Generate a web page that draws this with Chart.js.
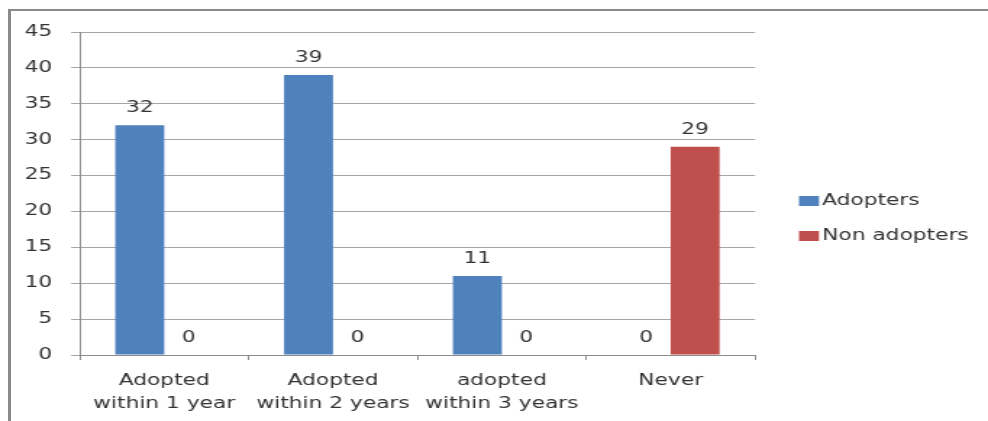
<!DOCTYPE html>
<html><head><meta charset="utf-8">
<script src="https://cdn.jsdelivr.net/npm/chart.js@4.4.0/dist/chart.umd.min.js"></script>
<style>
html,body{margin:0;padding:0;background:#fff;overflow:hidden;width:988px;height:421px;}
#frame{position:absolute;left:8px;top:9px;width:1000px;height:440px;border-left:3px solid #8a8a8a;border-top:2px solid #8a8a8a;}
#wrap{position:absolute;left:0;top:0;width:682px;height:421px;transform:scaleX(1.4487);transform-origin:0 0;}
</style></head><body>
<div id="frame"></div>
<div id="wrap"><canvas id="c" width="682" height="421"></canvas></div>
<script>
const categories = [["Adopted","within 1 year"],["Adopted","within 2 years"],["adopted","within 3 years"],["Never"]];
const seriesNames = ["Adopters","Non adopters"];
const adopters = [32,39,11,0];
const nonAdopters = [0,0,0,29];
const yMin = 0, yMax = 45, yStep = 5;

const FONT = '"DejaVu Sans", Verdana, sans-serif';
const TEXT = '#333333';

const valueLabels = {
  id:'valueLabels',
  afterDatasetsDraw(chart){
    const ctx = chart.ctx;
    ctx.save();
    ctx.font = '15px ' + FONT;
    ctx.fillStyle = TEXT;
    ctx.textAlign = 'center';
    ctx.textBaseline = 'alphabetic';
    chart.data.datasets.forEach((ds,i)=>{
      chart.getDatasetMeta(i).data.forEach((bar,j)=>{
        ctx.fillText(String(ds.data[j]), bar.x, bar.y - 13);
      });
    });
    ctx.restore();
  }
};

// legend drawn to the right of the plot, from the datasets
const sideLegend = {
  id:'sideLegend',
  afterDraw(chart){
    const ctx = chart.ctx;
    const area = chart.chartArea;
    const boxX = area.right + 30.3, boxW = 13.8, boxH = 10, gap = 2.2, step = 35;
    const firstY = 201;
    ctx.save();
    ctx.font = '15px ' + FONT;
    ctx.textAlign = 'left';
    ctx.textBaseline = 'middle';
    chart.data.datasets.forEach((ds,i)=>{
      const cy = firstY + i*step;
      ctx.fillStyle = ds.backgroundColor;
      ctx.fillRect(boxX, cy - boxH/2, boxW, boxH);
      ctx.fillStyle = TEXT;
      ctx.fillText(ds.label, boxX + boxW + gap, cy);
    });
    ctx.restore();
  }
};

new Chart(document.getElementById('c'), {
  type:'bar',
  data:{
    labels: categories,
    datasets:[
      {label: seriesNames[0], data: adopters, backgroundColor:'#4F81BD', categoryPercentage:0.58, barPercentage:1.0},
      {label: seriesNames[1], data: nonAdopters, backgroundColor:'#C0504D', categoryPercentage:0.58, barPercentage:1.0}
    ]
  },
  options:{
    responsive:false,
    animation:false,
    devicePixelRatio:1,
    layout:{padding:{left:4, right:160.8, top:32, bottom:-4}},
    plugins:{
      legend:{display:false},
      tooltip:{enabled:false}
    },
    scales:{
      x:{
        grid:{drawOnChartArea:false, drawTicks:true, tickLength:5, color:'#8c8c8c', offset:true},
        border:{color:'#8c8c8c'},
        ticks:{font:{family:FONT, size:15, lineHeight:1.5}, color:TEXT, padding:10, maxRotation:0, autoSkip:false}
      },
      y:{
        min:yMin, max:yMax,
        ticks:{stepSize:yStep, font:{family:FONT, size:15}, color:TEXT, padding:13},
        grid:{color:'#a6a6a6', tickLength:6},
        border:{color:'#8c8c8c'}
      }
    }
  },
  plugins:[valueLabels, sideLegend]
});
</script>
</body></html>
